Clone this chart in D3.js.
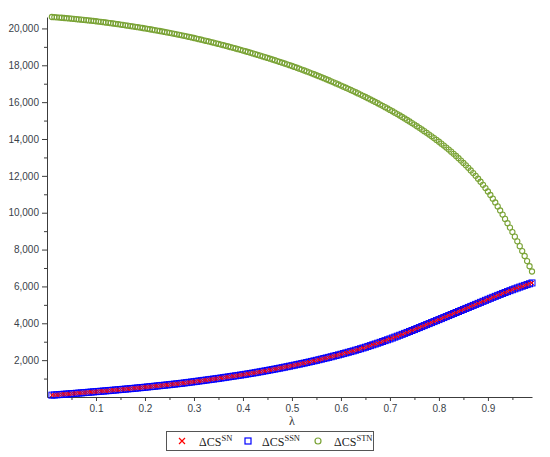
<!DOCTYPE html>
<html>
<head>
<meta charset="utf-8">
<script src="https://cdnjs.cloudflare.com/ajax/libs/d3/7.8.5/d3.min.js"></script>
<style>
  body { margin: 0; background: #fff; }
  svg { display: block; }
  .tick text { font-family: "Liberation Sans", Arial, sans-serif; font-size: 10px; fill: #3a3f4a; }
  .axis path, .axis line { stroke: #3c3c3c; }
</style>
</head>
<body>
<svg id="chart" width="550" height="457"></svg>
<script>
// sample points on the lambda axis
var lambda = [
  0.01,0.015,0.02,0.025,0.03,0.035,0.04,0.045,0.05,
  0.055,0.06,0.065,0.07,0.075,0.08,0.085,0.09,0.095,0.1,
  0.105,0.11,0.115,0.12,0.125,0.13,0.135,0.14,0.145,0.15,
  0.155,0.16,0.165,0.17,0.175,0.18,0.185,0.19,0.195,0.2,
  0.205,0.21,0.215,0.22,0.225,0.23,0.235,0.24,0.245,0.25,
  0.255,0.26,0.265,0.27,0.275,0.28,0.285,0.29,0.295,0.3,
  0.305,0.31,0.315,0.32,0.325,0.33,0.335,0.34,0.345,0.35,
  0.355,0.36,0.365,0.37,0.375,0.38,0.385,0.39,0.395,0.4,
  0.405,0.41,0.415,0.42,0.425,0.43,0.435,0.44,0.445,0.45,
  0.455,0.46,0.465,0.47,0.475,0.48,0.485,0.49,0.495,0.5,
  0.505,0.51,0.515,0.52,0.525,0.53,0.535,0.54,0.545,0.55,
  0.555,0.56,0.565,0.57,0.575,0.58,0.585,0.59,0.595,0.6,
  0.605,0.61,0.615,0.62,0.625,0.63,0.635,0.64,0.645,0.65,
  0.655,0.66,0.665,0.67,0.675,0.68,0.685,0.69,0.695,0.7,
  0.705,0.71,0.715,0.72,0.725,0.73,0.735,0.74,0.745,0.75,
  0.755,0.76,0.765,0.77,0.775,0.78,0.785,0.79,0.795,0.8,
  0.805,0.81,0.815,0.82,0.825,0.83,0.835,0.84,0.845,0.85,
  0.855,0.86,0.865,0.87,0.875,0.88,0.885,0.89,0.895,0.9,
  0.905,0.91,0.915,0.92,0.925,0.93,0.935,0.94,0.945,0.95,
  0.955,0.96,0.965,0.97,0.975,0.98,0.985,0.99
];

// ΔCS^SN (red crosses)
var csSN = [
  100,110,120,130,140,150,160,170,180,
  191,202,213,224,235,246,257,268,279,290,
  301,312,323,334,345,357,369,381,393,405,
  417,429,441,453,465,478,491,504,517,530,
  544,558,572,586,600,614,628,642,656,670,
  685,700,715,730,745,762,779,796,813,830,
  848,866,884,902,920,938,956,974,992,1010,
  1030,1050,1070,1090,1110,1130,1150,1170,1190,1210,
  1232,1254,1276,1298,1320,1344,1368,1392,1416,1440,
  1465,1490,1515,1540,1565,1592,1619,1646,1673,1700,
  1728,1756,1784,1812,1840,1870,1900,1930,1960,1990,
  2022,2054,2086,2118,2150,2184,2218,2252,2286,2320,
  2356,2392,2428,2464,2500,2540,2580,2620,2660,2700,
  2744,2788,2832,2876,2920,2966,3012,3058,3104,3150,
  3200,3250,3300,3350,3400,3452,3504,3556,3608,3660,
  3714,3768,3822,3876,3930,3984,4038,4092,4146,4200,
  4255,4310,4365,4420,4475,4530,4585,4640,4695,4750,
  4805,4860,4915,4970,5025,5080,5135,5190,5245,5300,
  5354,5408,5461,5514,5566,5618,5669,5720,5770,5820,
  5869,5917,5964,6010,6055,6100,6145,6190
];

// ΔCS^SSN (blue squares) sits exactly on top of ΔCS^SN in the picture
var csSSN = csSN.slice();

// ΔCS^STN (green circles)
var csSTN = [
  20620,20610,20600,20589,20578,20567,20555,20543,20530,
  20517,20504,20491,20477,20463,20449,20435,20420,20405,20390,
  20374,20357,20340,20322,20304,20286,20268,20249,20230,20210,
  20190,20170,20150,20129,20108,20087,20066,20044,20022,20000,
  19977,19954,19931,19907,19883,19859,19835,19810,19785,19760,
  19734,19708,19681,19654,19626,19598,19569,19540,19510,19480,
  19450,19419,19388,19356,19324,19292,19260,19227,19194,19160,
  19126,19091,19056,19020,18984,18948,18912,18875,18838,18800,
  18762,18723,18684,18644,18604,18564,18524,18483,18442,18400,
  18358,18315,18272,18228,18184,18140,18096,18051,18006,17960,
  17913,17865,17817,17768,17718,17668,17617,17565,17513,17460,
  17407,17353,17298,17243,17187,17131,17074,17017,16959,16900,
  16841,16781,16721,16660,16598,16536,16473,16409,16345,16280,
  16214,16147,16079,16010,15940,15870,15799,15727,15654,15580,
  15505,15429,15352,15274,15194,15114,15032,14949,14865,14780,
  14694,14607,14518,14427,14335,14241,14146,14049,13950,13850,
  13748,13644,13537,13427,13314,13197,13077,12954,12828,12700,
  12569,12434,12294,12149,11999,11843,11681,11513,11335,11150,
  10960,10762,10556,10343,10123,9897,9665,9432,9192,8950,
  8700,8445,8185,7920,7650,7375,7095,6810
];

var xTicks = [0.1,0.2,0.3,0.4,0.5,0.6,0.7,0.8,0.9];
var xMinorTicks = [0.05,0.15,0.25,0.35,0.45,0.55,0.65,0.75,0.85,0.95];
var yTicks = [2000,4000,6000,8000,10000,12000,14000,16000,18000,20000];
var yMinorTicks = [1000,3000,5000,7000,9000,11000,13000,15000,17000,19000];
var legendSup = ["SN", "SSN", "STN"];

var red = "#ff0000", blue = "#0000ff", green = "#7aa336";

var svg = d3.select("#chart");

var x = d3.scaleLinear().domain([0, 0.99]).range([47, 532]);
var y = d3.scaleLinear().domain([0, csSTN[0]]).range([397, 17]);

//axes: major ticks with labels, minor ticks without
svg.append("g").attr("class", "axis")
  .attr("transform", "translate(0,397)")
  .call(d3.axisBottom(x).tickValues(xTicks).tickSize(4).tickSizeOuter(0).tickPadding(4));
svg.append("g").attr("class", "axis")
  .attr("transform", "translate(0,397)")
  .call(d3.axisBottom(x).tickValues(xMinorTicks).tickSize(3).tickSizeOuter(0).tickFormat(""))
  .select(".domain").remove();

svg.append("g").attr("class", "axis")
  .attr("transform", "translate(47,0)")
  .call(d3.axisLeft(y).tickValues(yTicks).tickSize(5).tickSizeOuter(0).tickPadding(3)
    .tickFormat(d3.format(",")));
svg.append("g").attr("class", "axis")
  .attr("transform", "translate(47,0)")
  .call(d3.axisLeft(y).tickValues(yMinorTicks).tickSize(3).tickSizeOuter(0).tickFormat(""))
  .select(".domain").remove();

svg.append("text")
  .attr("x", x(0.5)).attr("y", 425)
  .attr("text-anchor", "middle")
  .style("font-family", "'Liberation Serif', 'Times New Roman', serif")
  .style("font-size", "12px")
  .style("fill", "#333")
  .text("λ");

//markers
var plot = svg.append("g");

plot.append("g").selectAll("rect")
  .data(lambda)
  .enter().append("rect")
  .attr("x", function(d, i) { return x(d) - 3; })
  .attr("y", function(d, i) { return y(csSSN[i]) - 3; })
  .attr("width", 6).attr("height", 6)
  .attr("fill", "none").attr("stroke", blue).attr("stroke-width", 1);

plot.append("g").selectAll("path")
  .data(lambda)
  .enter().append("path")
  .attr("transform", function(d, i) { return "translate(" + x(d) + "," + y(csSN[i]) + ")"; })
  .attr("d", "M-2,-2L2,2M-2,2L2,-2")
  .attr("stroke", red).attr("stroke-width", 1);

plot.append("g").selectAll("circle")
  .data(lambda)
  .enter().append("circle")
  .attr("cx", function(d) { return x(d); })
  .attr("cy", function(d, i) { return y(csSTN[i]); })
  .attr("r", 2.6)
  .attr("fill", "none").attr("stroke", green).attr("stroke-width", 1.1);

//legend
var legend = svg.append("g");
legend.append("rect")
  .attr("x", 166.5).attr("y", 431.5).attr("width", 207).attr("height", 19)
  .attr("fill", "#fff").attr("stroke", "#555");

var itemX = [182, 248, 318];
var textX = [199, 262, 334];

legend.append("path")
  .attr("transform", "translate(" + itemX[0] + ",441)")
  .attr("d", "M-3,-3L3,3M-3,3L3,-3")
  .attr("stroke", red).attr("stroke-width", 1.2);
legend.append("rect")
  .attr("x", itemX[1] - 3).attr("y", 438).attr("width", 6).attr("height", 6)
  .attr("fill", "none").attr("stroke", blue).attr("stroke-width", 1.2);
legend.append("circle")
  .attr("cx", itemX[2]).attr("cy", 441).attr("r", 3)
  .attr("fill", "none").attr("stroke", green).attr("stroke-width", 1.2);

legendSup.forEach(function(s, i) {
  var t = legend.append("text")
    .attr("x", textX[i]).attr("y", 446)
    .style("font-family", "'Liberation Serif', 'Times New Roman', serif")
    .style("font-size", "12px")
    .style("fill", "#222");
  t.append("tspan").text("ΔCS");
  t.append("tspan").attr("dy", -5).style("font-size", "8.5px").text(s);
});
</script>
</body>
</html>
